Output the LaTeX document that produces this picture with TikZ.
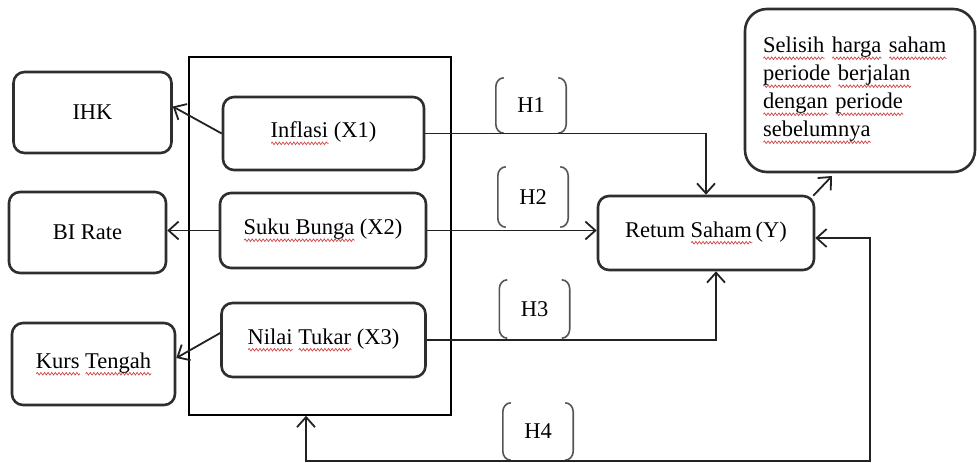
\documentclass[tikz,border=0pt]{standalone}
\usepackage{fontspec}
\setmainfont{Liberation Serif}
\usetikzlibrary{arrows.meta,decorations.pathmorphing}

\definecolor{boxgray}{HTML}{2E2E2E}
\definecolor{linegray}{HTML}{222222}
\definecolor{brgray}{HTML}{555555}
\definecolor{wavered}{HTML}{D04545}

% red wavy spell-check underline under a word
\newlength\rwlen
\newcommand\rw[1]{\settowidth\rwlen{#1}\leavevmode\rlap{\tikz[baseline=0pt]
  \draw[wavered,line width=0.7pt,sharp corners,decorate,
        decoration={snake,amplitude=1.3pt,segment length=3.6pt}]
  (0pt,-5.5pt) -- (\rwlen,-5.5pt);}#1}

% bracket pair drawn around a hypothesis label
\newcommand\hbrackets[1]{%
  \draw[brk] ([xshift=8pt]#1.north west) to[out=180,in=90] ([yshift=-9pt]#1.north west)
    -- ([yshift=9pt]#1.south west) to[out=-90,in=180] ([xshift=8pt]#1.south west);
  \draw[brk] ([xshift=-8pt]#1.north east) to[out=0,in=90] ([yshift=-9pt]#1.north east)
    -- ([yshift=9pt]#1.south east) to[out=-90,in=0] ([xshift=-8pt]#1.south east);}

\begin{document}
\begin{tikzpicture}[x=1pt,y=-1pt,
  every node/.style={font=\fontsize{22.5}{28}\selectfont},
  varbox/.style={draw=boxgray,line width=2.6pt,rounded corners=11pt,inner sep=0pt},
  hlabel/.style={minimum width=70pt,inner sep=0pt},
  brk/.style={draw=brgray,line width=1.6pt},
  conn/.style={draw=linegray,line width=1.8pt},
  >={Straight Barb[length=10pt,width=18pt]}]
\useasboundingbox (0,0) rectangle (977,463);

% frame holding the three independent variables
\node[draw=black,line width=1.6pt,minimum width=262pt,minimum height=358pt,inner sep=0pt] (vars) at (320,236) {};

% indicator boxes
\node[varbox,minimum width=158pt,minimum height=81pt] (ihk) at (92.5,112.5) {IHK};
\node[varbox,minimum width=157pt,minimum height=81pt] (bi) at (87.5,232.5) {BI Rate};
\node[varbox,minimum width=163pt,minimum height=82pt] (kurs) at (93.5,364) {\rw{Kurs} \rw{Tengah}};

% independent variables
\node[varbox,minimum width=201pt,minimum height=73pt] (infl) at (323.5,133.5) {\rw{Inflasi} (X1)};
\node[varbox,minimum width=206pt,minimum height=75pt] (suku) at (323,230.5) {\rw{Suku Bunga} (X2)};
\node[varbox,minimum width=204pt,minimum height=74pt] (nilai) at (323.5,340) {\rw{Nilai} \rw{Tukar} (X3)};

% dependent variable and its measure
\node[varbox,minimum width=216pt,minimum height=74pt] (retum) at (706,233) {Retum \rw{Saham}\,(Y)};
\node[varbox,rounded corners=22pt,minimum width=230pt,minimum height=163pt,
      text width=194pt,align=left,inner xsep=18pt] (selisih) at (860,90.5)
  {\rw{Selisih} \rw{harga} \rw{saham}\\ \rw{periode} \rw{berjalan}\\ \rw{dengan} \rw{periode}\\ \rw{sebelumnya}};

% hypothesis labels
\node[hlabel,minimum height=55pt] (h1) at (531,105.5) {H1};
\node[hlabel,minimum height=60pt] (h2) at (533,197) {H2};
\node[hlabel,minimum height=58pt] (h3) at (534.5,309) {H3};
\node[hlabel,minimum height=57pt] (h4) at (538,431.5) {H4};
\hbrackets{h1}
\hbrackets{h2}
\hbrackets{h3}
\hbrackets{h4}

% variables to indicators
\draw[conn,->] (infl.west) -- ([yshift=6pt]ihk.east);
\draw[conn,->] (suku.west) -- (suku.west -| bi.east);
\draw[conn,->] ([yshift=7pt]nilai.west) -- ([yshift=6pt]kurs.east);

% hypotheses H1 to H3
\draw[conn,->] (infl.east) -| (retum.north);
\draw[conn,->] (suku.east) -- (suku.east -| retum.west);
\draw[conn,->] (nilai.east) -| ([xshift=10pt]retum.south);

% joint hypothesis H4
\coordinate (loop) at (870,461);
\draw[conn,<->] ([xshift=-14pt]vars.south) |- (loop) |- ([yshift=-5pt]retum.east);

% return measure
\coordinate (selin) at (832,176);
\draw[conn,->] ([shift={(-2pt,-1pt)}]retum.north east) -- (selin);
\end{tikzpicture}
\end{document}
